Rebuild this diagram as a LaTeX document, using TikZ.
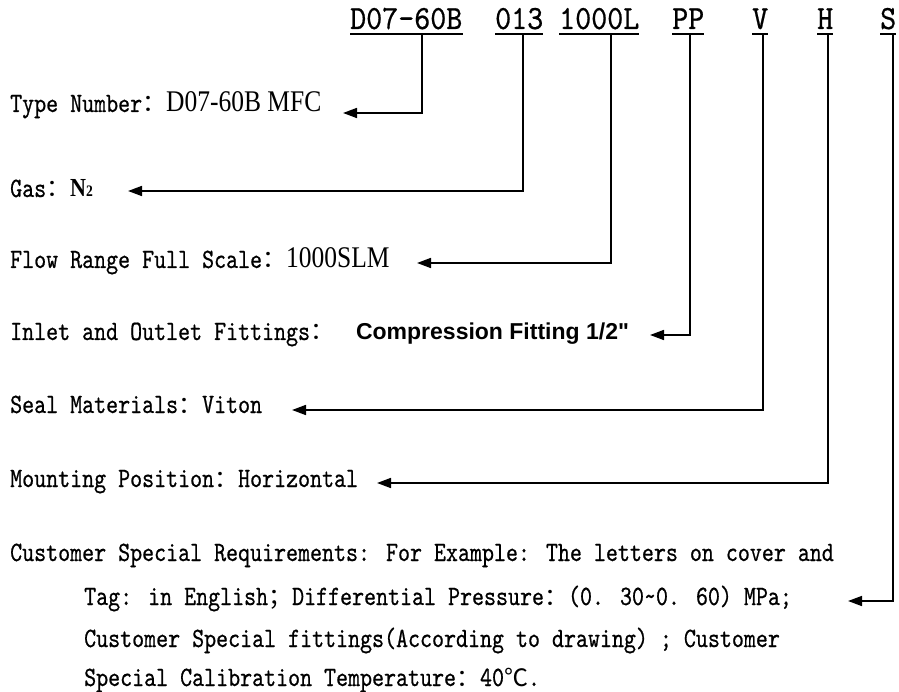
\documentclass[tikz,border=0pt]{standalone}
\usepackage{fontspec}
\usepackage{tikz}
\usetikzlibrary{arrows.meta}
\newfontfamily\bodyfont{lmmono10-regular.otf}[FakeStretch=0.816,FakeBold=0.6]
\newfontfamily\codefont{lmmono10-regular.otf}[FakeStretch=0.9,FakeBold=0.6]
\newfontfamily\numfont{Liberation Serif}[FakeStretch=0.85]
\newfontfamily\fitfont{Liberation Sans}
\newfontfamily\cjkfont{Noto Sans CJK SC}
\newcommand\fw[1]{{\cjkfont\fontsize{24}{24}\selectfont #1}}
\newcommand\numtxt[1]{{\numfont\fontsize{30}{30}\selectfont #1}}

\tikzset{
	txt/.style={anchor=base west, inner sep=0pt, font=\bodyfont\fontsize{28}{30}\selectfont},
	code/.style={anchor=base west, inner sep=0pt, font=\codefont\fontsize{33.9}{40}\selectfont},
	uline/.style={line width=1.4pt},
	lead/.style={line width=1.6pt, -{Triangle[length=14pt,width=10pt]}}
}

\begin{document}
\begin{tikzpicture}[x=1pt, y=-1pt]
		%%%%% START %%%%%
		\useasboundingbox[fill=white] (0,0) rectangle (899,692);
		
		% type code
		\node[code] (tp) at (350,29) {D07-60B};
		\node[code] (gs) at (495,29) {013};
		\node[code] (fr) at (559,29) {1000L};
		\node[code] (ft) at (672,29) {PP};
		\node[code] (sm) at (752,29) {V};
		\node[code] (mp) at (817,29) {H};
		\node[code] (cs) at (880,29) {S};
		\foreach \n in {tp,gs,fr,ft,sm,mp,cs}
			\draw[uline] ([yshift=-5pt]\n.base west) -- ([yshift=-5pt]\n.base east);
		
		% meanings
		\node[txt] (type) at (10,112) {Type Number\fw{：}\numtxt{D07-60B MFC}};
		\node[txt] (gas) at (10,197) {Gas\fw{：}{\numfont\bfseries\fontsize{26}{26}\selectfont N\fontsize{16}{16}\selectfont 2}};
		\node[txt] (range) at (10,268) {Flow Range Full Scale\fw{：}\numtxt{1000SLM}};
		\node[txt] (fit) at (10,340) {Inlet and Outlet Fittings\fw{：}\hspace*{22pt}{\fitfont\bfseries\fontsize{23}{23}\selectfont Compression Fitting 1/2"}};
		\node[txt] (seal) at (10,413) {Seal Materials\fw{：}Viton};
		\node[txt] (mount) at (10,487) {Mounting Position\fw{：}Horizontal};
		\node[txt] (spec1) at (10,561) {Customer Special Requirements: For Example: The letters on cover and};
		\node[txt] (spec2) at (84,605) {Tag: in English\fw{；}Differential Pressure\fw{：}(0. 30\textasciitilde0. 60) MPa;};
		\node[txt] (spec3) at (84,647) {Customer Special fittings(According to drawing) ; Customer};
		\node[txt] (spec4) at (84,686) {Special Calibration Temperature\fw{：}40\fw{℃}.};
		
		% arrow ends
		\coordinate (typeTip) at (343,113);
		\coordinate (gasTip) at (128,191);
		\coordinate (rangeTip) at (417,263);
		\coordinate (fitTip) at (650,335);
		\coordinate (sealTip) at (292,410);
		\coordinate (mountTip) at (377,483);
		\coordinate (specTip) at (848,601);
		
		\draw[lead] ([xshift=72pt,yshift=-5pt]tp.base west) |- (typeTip);
		\draw[lead] ([xshift=28pt,yshift=-5pt]gs.base west) |- (gasTip);
		\draw[lead] ([xshift=52pt,yshift=-5pt]fr.base west) |- (rangeTip);
		\draw[lead] ([xshift=18pt,yshift=-5pt]ft.base west) |- (fitTip);
		\draw[lead] ([xshift=11pt,yshift=-5pt]sm.base west) |- (sealTip);
		\draw[lead] ([xshift=11pt,yshift=-5pt]mp.base west) |- (mountTip);
		\draw[lead] ([xshift=13pt,yshift=-5pt]cs.base west) |- (specTip);
		%%%%% END %%%%%
\end{tikzpicture}
\end{document}
